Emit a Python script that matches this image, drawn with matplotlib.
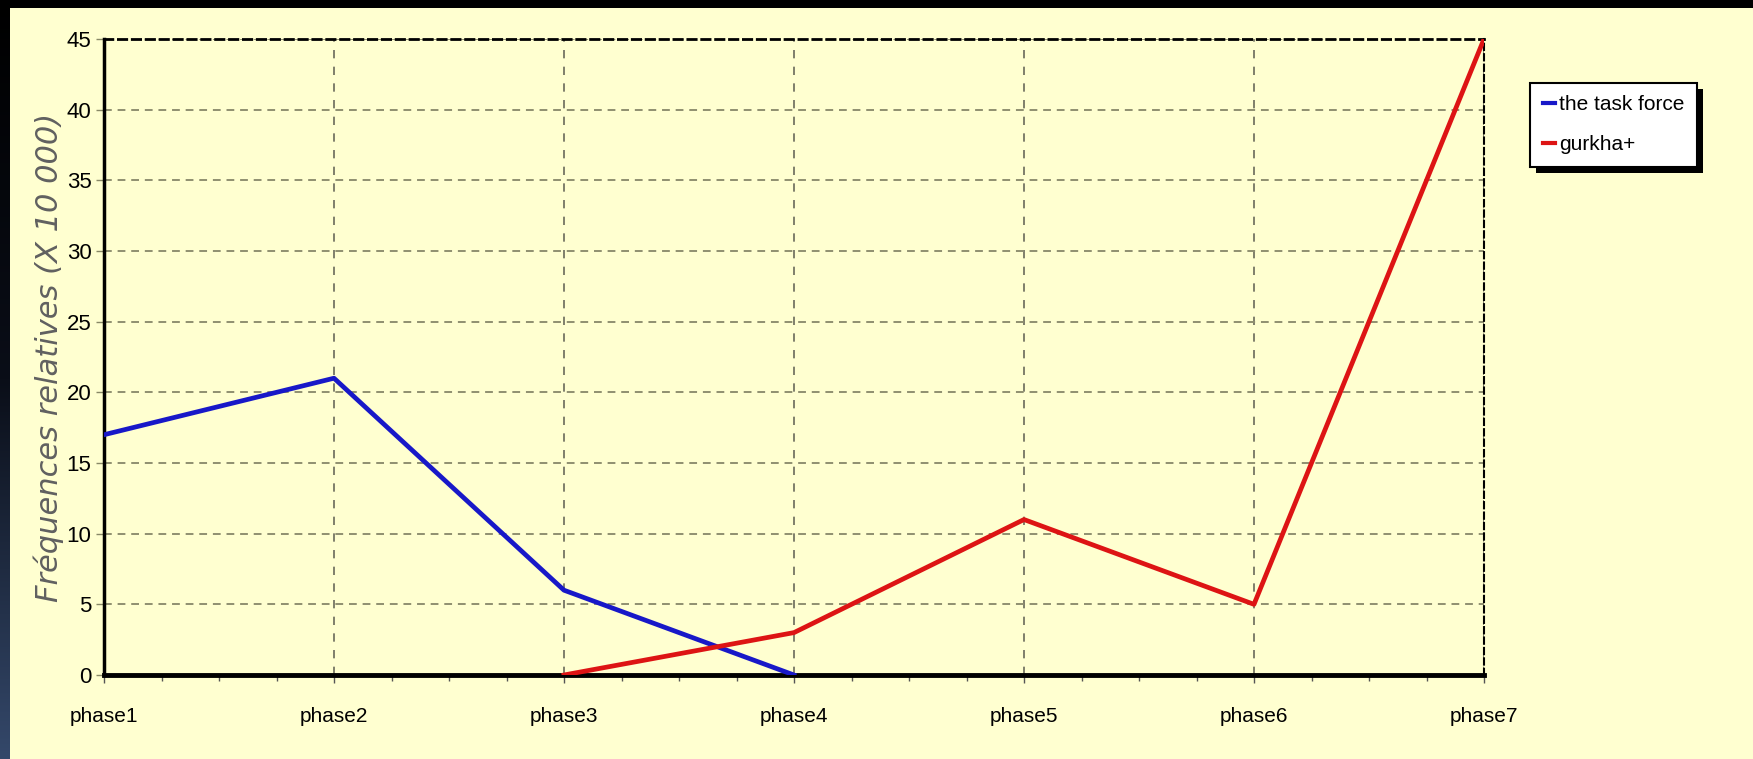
import numpy as np
import matplotlib
matplotlib.use("Agg")
import matplotlib.pyplot as plt
from matplotlib.patches import Rectangle
from matplotlib.ticker import MultipleLocator
from matplotlib.colors import LinearSegmentedColormap

phases = ["phase1", "phase2", "phase3", "phase4", "phase5", "phase6", "phase7"]
task_force = [17, 21, 6, 0, np.nan, np.nan, np.nan]
gurkha = [np.nan, np.nan, 0, 3, 11, 5, 45]
series_names = ["the task force", "gurkha+"]
yticks = [0, 5, 10, 15, 20, 25, 30, 35, 40, 45]

W, H = 1753, 759
fig = plt.figure(figsize=(W / 100, H / 100), dpi=100)
bg = "#ffffd0"
fig.patch.set_facecolor(bg)

font = ["Liberation Sans", "DejaVu Sans"]

# left dark strip and top band
sax = fig.add_axes([0, 0, 10 / W, 1])
grad = np.linspace(0, 1, 256).reshape(-1, 1)
cm = LinearSegmentedColormap.from_list("g", ["#000000", "#0a0e18", "#34486a"])
sax.imshow(grad, aspect="auto", cmap=cm, extent=[0, 1, 1, 0])
sax.set_axis_off()
fig.add_artist(Rectangle((0, 1 - 8 / H), 1, 8 / H, transform=fig.transFigure,
                         facecolor="black", edgecolor="none", zorder=5))

ax = fig.add_axes([104 / W, 1 - 675 / H, (1484 - 104) / W, (675 - 39) / H])
ax.set_facecolor(bg)
x = np.arange(len(phases))
ax.plot(x, task_force, color="#1818c8", lw=3.4, zorder=3)
ax.plot(x, gurkha, color="#dd1414", lw=3.4, zorder=3)

ax.set_xlim(0, len(phases) - 1)
ax.set_ylim(0, 45)
ax.set_xticks(x)
ax.set_xticklabels(phases, family=font, fontsize=15)
ax.set_yticks(yticks)
ax.set_yticklabels([str(v) for v in yticks], family=font, fontsize=16)
ax.xaxis.set_minor_locator(MultipleLocator(0.25))
ax.tick_params(axis="x", which="major", length=6, width=1, color="#555555", pad=17)
ax.tick_params(axis="x", which="minor", length=4, width=1, color="#555555")
ax.tick_params(axis="y", length=6, width=1, color="#888866", pad=3)

ax.yaxis.grid(True, color="#8f8f70", linestyle=(0, (4, 3)), lw=1.4)
ax.xaxis.grid(True, color="#6a6a5a", linestyle=(0, (5, 5)), lw=1.2)
ax.set_axisbelow(True)

for s in ["left", "bottom"]:
    ax.spines[s].set_color("black")
ax.spines["left"].set_linewidth(2.5)
ax.spines["bottom"].set_linewidth(3.5)
ax.spines["top"].set_linestyle((0, (3, 2)))
ax.spines["top"].set_linewidth(2)
ax.spines["right"].set_linestyle((0, (3, 2)))
ax.spines["right"].set_linewidth(1.5)

ax.set_ylabel("Fréquences relatives (X 10 000)", fontsize=22, style="italic",
              color="#606060", family="DejaVu Sans")
ax.yaxis.set_label_coords(-40 / (1484 - 104), 0.5)

leg = fig.legend([ax.lines[0], ax.lines[1]], series_names, loc="upper left",
                 bbox_to_anchor=(1530 / W, 1 - 83 / H), frameon=True,
                 prop={"family": font, "size": 15}, handlelength=0.6,
                 handletextpad=0.2, borderpad=0.6, labelspacing=1.0,
                 fancybox=False, borderaxespad=0)
leg.get_frame().set_edgecolor("black")
leg.get_frame().set_linewidth(1.5)
leg.get_frame().set_facecolor("white")
leg.get_frame().set_alpha(1)
for l in leg.get_lines():
    l.set_linewidth(3)
leg.set_zorder(10)

fig.canvas.draw()
bb = leg.get_window_extent().transformed(fig.transFigure.inverted())
fig.add_artist(Rectangle((bb.x0 + 6 / W, bb.y0 - 6 / H), bb.width, bb.height,
                         transform=fig.transFigure, facecolor="black",
                         edgecolor="none", zorder=9))

fig.savefig("out.png", dpi=100, facecolor=fig.get_facecolor())
